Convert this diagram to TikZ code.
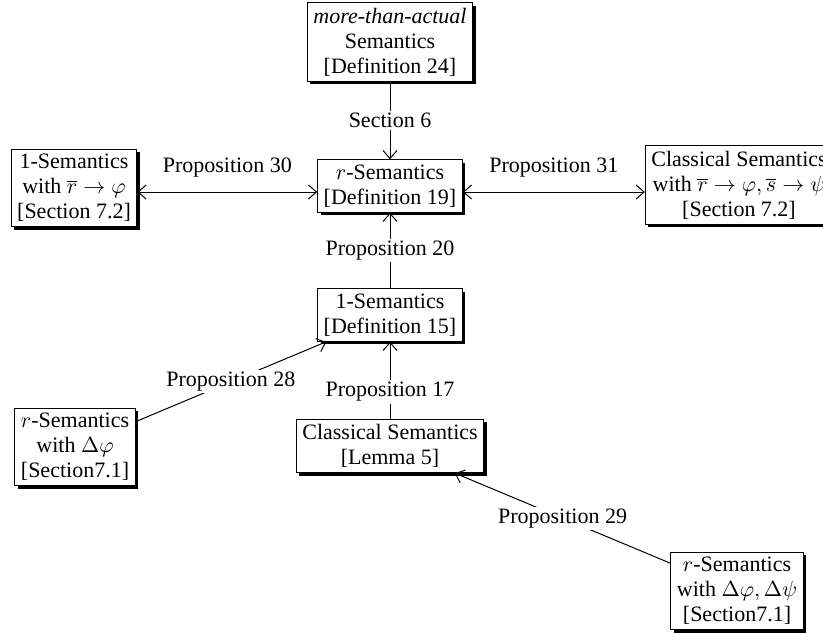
\documentclass[tikz,border=0pt]{standalone}
\usepackage{fontspec}
\setmainfont{Liberation Serif}
\usetikzlibrary{arrows.meta}

\begin{document}
\begin{tikzpicture}[x=0.5pt,y=-0.5pt,
    font=\fontsize{11}{12.5}\selectfont,
    >={Straight Barb[length=4pt,width=7pt]},
    line width=0.5pt,
    sem/.style={draw,fill=white,align=center,inner xsep=3pt,inner ysep=2.5pt,
      preaction={fill=black,transform canvas={xshift=1.5pt,yshift=-1.5pt}}},
    prop/.style={fill=white,inner sep=1pt}]
  \useasboundingbox (0,0) rectangle (823,632);
  \draw
    (390,42) node[sem] (more){\textit{more-than-actual}\\Semantics\\{[}Definition 24{]}}
    (390,186) node[sem] (rsem){$r$-Semantics\\{[}Definition 19{]}}
    (74,188) node[sem] (oneR){1-Semantics\\with $\overline{r}\rightarrow\varphi$\\{[}Section 7.2{]}}
    (739,185) node[sem] (classRS){Classical Semantics\\with $\overline{r}\rightarrow\varphi,\overline{s}\rightarrow\psi$\\{[}Section 7.2{]}}
    (390,315) node[sem] (oneSem){1-Semantics\\{[}Definition 15{]}}
    (390,446) node[sem] (classic){Classical Semantics\\{[}Lemma 5{]}}
    (75,447) node[sem] (rDelta){$r$-Semantics\\with $\Delta\varphi$\\{[}Section7.1{]}}
    (737,591) node[sem] (rDeltaDelta){$r$-Semantics\\with $\Delta\varphi,\Delta\psi$\\{[}Section7.1{]}};
  \begin{scope}[->]
    \draw (more) -- node[prop,midway]{Section 6} (rsem);
    \draw[<->] ([yshift=-2pt]oneR.east) -- node[above=4pt,midway]{Proposition 30} ([yshift=-2pt]oneR.east -| rsem.west);
    \draw[<->] ([yshift=-2pt]oneR.east -| rsem.east) -- node[above=4pt,midway]{Proposition 31} ([yshift=-2pt]oneR.east -| classRS.west);
    \draw (oneSem) -- node[prop,midway]{Proposition 20} (rsem);
    \draw (classic) -- node[prop,pos=0.35]{Proposition 17} (oneSem);
    \draw (rDelta) -- node[prop,midway]{Proposition 28} (oneSem);
    \draw (rDeltaDelta) -- node[prop,midway]{Proposition 29} (classic);
  \end{scope}
\end{tikzpicture}
\end{document}
